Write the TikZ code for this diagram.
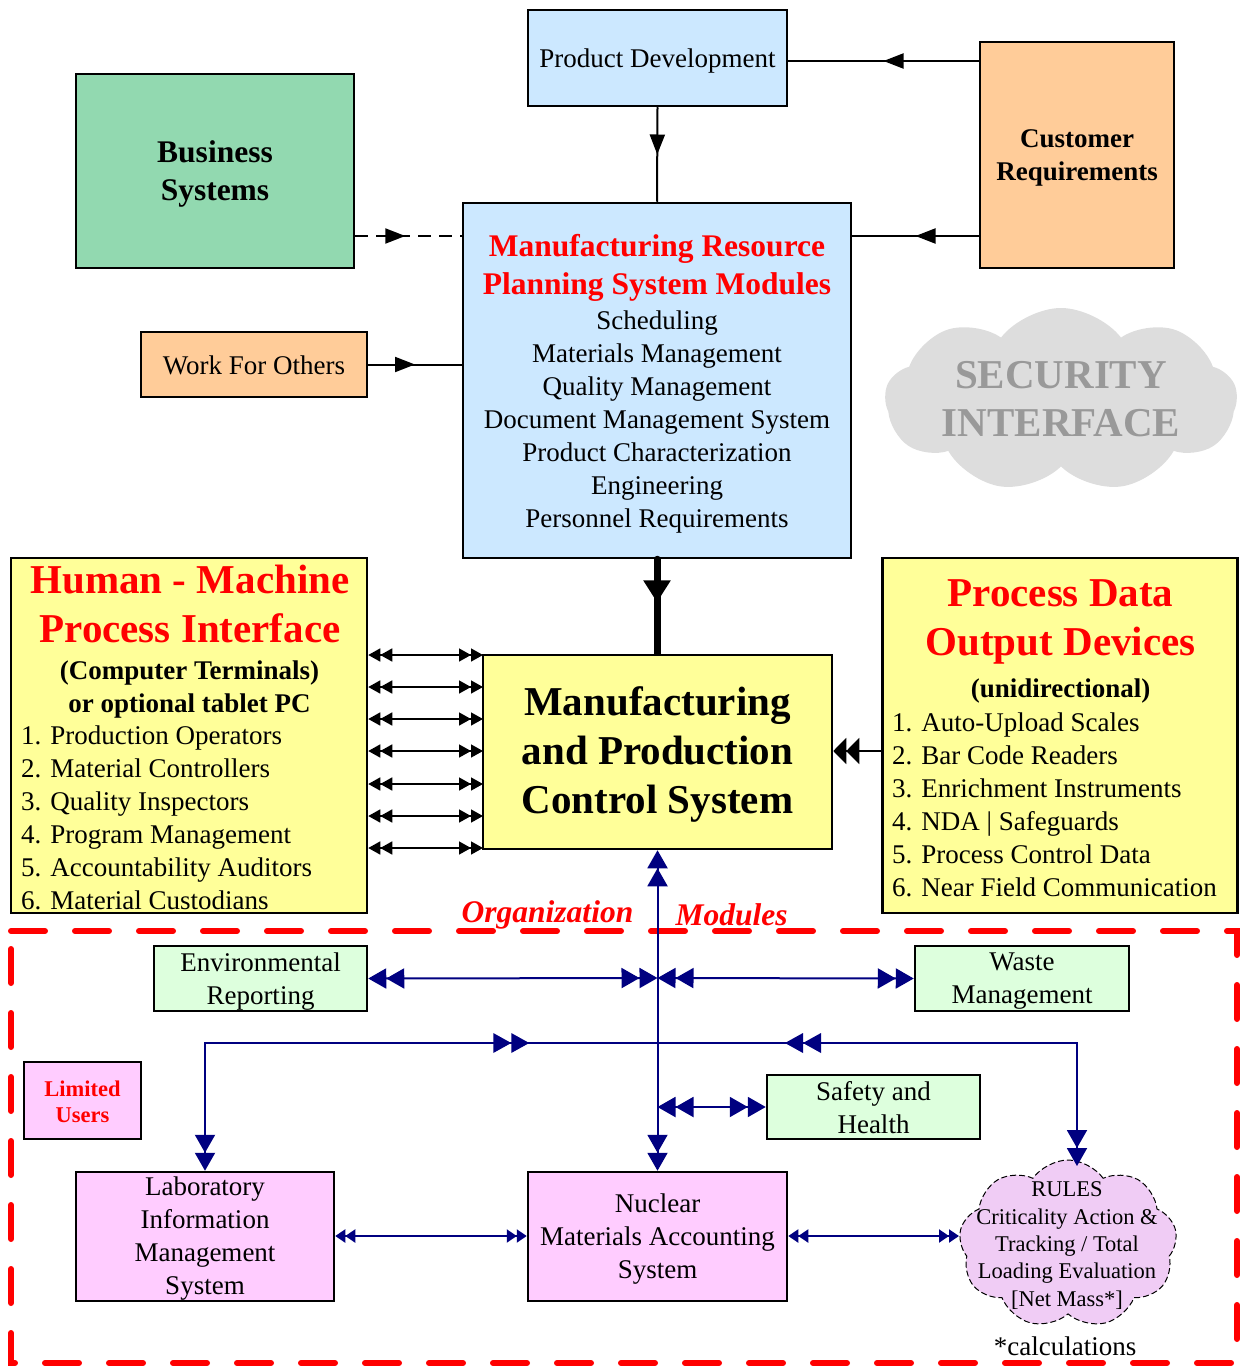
\documentclass[tikz,border=0pt]{standalone}
\usepackage{fontspec}
\setmainfont{Liberation Serif}
\usetikzlibrary{arrows.meta,decorations.markings,shapes.symbols}

\definecolor{pdblue}{HTML}{CCE8FF}
\definecolor{peach}{HTML}{FFCC99}
\definecolor{bizgreen}{HTML}{92D9B0}
\definecolor{paleyellow}{HTML}{FFFF99}
\definecolor{mint}{HTML}{DDFFDD}
\definecolor{pinkbox}{HTML}{FFCCFF}
\definecolor{lilac}{HTML}{F0CCF5}
\definecolor{cloudgray}{HTML}{DDDDDD}
\definecolor{cloudtext}{HTML}{999999}
\definecolor{navyline}{HTML}{000080}

\newcommand\fsBody{\fontsize{27}{33}\selectfont}
\newcommand\fsHead{\fontsize{31.5}{38}\selectfont}
\newcommand\fsBig{\fontsize{41}{49}\selectfont}
\newcommand\fsSmall{\fontsize{22.5}{27.3}\selectfont}

\tikzset{
  box/.style={draw=black, line width=2.5pt, inner sep=0pt, rectangle},
  txt/.style={inner sep=0pt, align=center, font=\fsBody},
  link/.style={draw=black, line width=2pt},
  bline/.style={draw=navyline, line width=2pt},
  bkT/.tip={Triangle[length=12pt,width=13pt,sep=0pt]},
  pdT/.tip={Triangle[length=13pt,width=26pt,sep=0pt]},
  blT/.tip={Triangle[length=18pt,width=20pt,sep=0pt]},
  bsT/.tip={Triangle[length=10pt,width=13pt,sep=0pt]},
  midtip/.style={postaction={decorate}, decoration={markings,
      mark=at position #1 with {\arrow{Triangle[length=20pt,width=15pt]}}}},
  bmid/.style={postaction={decorate}, decoration={markings,
      mark=at position #1 with {\fill[navyline] (0,0) -- (-18pt,10pt) -- (-18pt,-10pt) -- cycle
        (-18pt,0) -- (-36pt,10pt) -- (-36pt,-10pt) -- cycle;}}},
}

\begin{document}
\begin{tikzpicture}[x=1pt,y=-1pt]
\useasboundingbox (0,0) rectangle (1239,1367);

% organization modules frame
\draw[red, line width=6pt, line cap=round, dash pattern=on 34pt off 30pt]
  (11,931) -- (1237,931) -- (1237,1363) -- (11,1363) -- cycle;

% upper boxes
\node[box, fill=pdblue, minimum width=259pt, minimum height=96pt] (pd) at (657.5,58) {};
\node[box, fill=peach, minimum width=194pt, minimum height=226pt] (cust) at (1077,155) {};
\node[box, fill=bizgreen, minimum width=278pt, minimum height=194pt] (bus) at (215,171) {};
\node[box, fill=pdblue, minimum width=388pt, minimum height=355pt] (mrp) at (657,380.5) {};
\node[box, fill=peach, minimum width=226pt, minimum height=65pt] (wfo) at (254,364.5) {};
\node[box, fill=paleyellow, minimum width=356pt, minimum height=355pt] (hmi) at (189,735.5) {};
\node[box, fill=paleyellow, minimum width=355pt, minimum height=355pt] (pdo) at (1060,735.5) {};

\node[txt] (pdT) at (657.5,61) {Product Development};
\node[txt, font=\fsBody\bfseries] (custT) at (1077,158) {Customer\\Requirements};
\node[txt, font=\fsHead\bfseries] (busT) at (215,174) {Business\\Systems};
\node[txt] (wfoT) at (254,365) {Work For Others};

% security cloud
\node[cloud, cloud puffs=9, cloud puff arc=105, cloud ignores aspect, fill=cloudgray, draw=none,
  minimum width=352pt, minimum height=184pt] (sec) at (1061,400) {};
\node[txt, font=\fontsize{41}{48}\selectfont\bfseries, text=cloudtext] (secT) at (1061,399) {SECURITY\\INTERFACE};

% top connectors
\draw[link, midtip=0.5] (cust.west |- 0,61) -- (pd.east |- 0,61);
\draw[link, midtip=0.5] (pd.south) -- (mrp.north);
\draw[link, midtip=0.5] (cust.west |- 0,236) -- (mrp.east |- 0,236);
\draw[link, dash pattern=on 13pt off 8pt, midtip=0.47] (bus.east |- 0,236) -- (mrp.west |- 0,236);
\draw[link, midtip=0.5] (wfo.east) -- (mrp.west |- wfo.east);

% MRP text
\node[txt, font=\fsHead\bfseries, text=red] (mrpT) at (657,268) {Manufacturing Resource\\Planning System Modules};
\node[txt] (mrpL) at (657,422) {Scheduling\\Materials Management\\Quality Management\\Document Management System\\Product Characterization\\Engineering\\Personnel Requirements};

% MRP to control system
\draw[line width=7pt, line cap=round, postaction={decorate}, decoration={markings,
  mark=at position 0.45 with {\arrow{Triangle[length=22pt,width=26pt]}}}] (mrp.south) -- (657,655);

% human machine interface links
\foreach \yy in {655,687,719,751,784,816,848}
  \draw[link, line width=1.5pt, {bkT[]bkT[]}-{bkT[]bkT[]}] (hmi.east |- 0,\yy) -- (483,\yy);

% control system box
\node[box, fill=paleyellow, minimum width=349pt, minimum height=194pt] (mpcs) at (657.5,752) {};
\node[txt, font=\fsBig\bfseries] (mpcsT) at (657.5,754) {Manufacturing\\and Production\\Control System};

% output devices link
\draw[link, line width=1.5pt, -{pdT[]pdT[]}] (pdo.west |- 0,751) -- (mpcs.east |- 0,751);

% HMI text
\node[txt, font=\fsBig\bfseries, text=red] (hmiT) at (190,604) {Human - Machine\\Process Interface};
\node[txt, font=\fsBody\bfseries] (hmiS) at (189.5,689.5) {(Computer Terminals)\\or optional tablet PC};
\node[txt, align=left, anchor=west] (hmiL) at (21,818) {1. Production Operators\\2. Material Controllers\\3. Quality Inspectors\\4. Program Management\\5. Accountability Auditors\\6. Material Custodians};

% output devices text
\node[txt, font=\fsBig\bfseries, text=red] (pdoT) at (1060.5,622) {Process Data\\Output Devices};
\node[txt, font=\fsBody\bfseries] (pdoS) at (1060.5,691) {(unidirectional)};
\node[txt, align=left, anchor=west] (pdoL) at (892,805) {1. Auto-Upload Scales\\2. Bar Code Readers\\3. Enrichment Instruments\\4. NDA | Safeguards\\5. Process Control Data\\6. Near Field Communication};

% frame labels
\node[txt, font=\fsHead\bfseries\itshape, text=red] (orgA) at (547.5,915) {Organization};
\node[txt, font=\fsHead\bfseries\itshape, text=red] (orgB) at (731.5,915) {Modules};

% lower boxes
\node[box, fill=mint, minimum width=213pt, minimum height=65pt] (env) at (260.5,978.5) {};
\node[box, fill=mint, minimum width=214pt, minimum height=65pt] (waste) at (1022,978.5) {};
\node[box, fill=pinkbox, minimum width=117pt, minimum height=77pt] (lim) at (82.5,1100.5) {};
\node[box, fill=mint, minimum width=213pt, minimum height=64pt] (safe) at (873.5,1107) {};
\node[box, fill=pinkbox, minimum width=258pt, minimum height=129pt] (lims) at (205,1236.5) {};
\node[box, fill=pinkbox, minimum width=259pt, minimum height=129pt] (nmas) at (657.5,1236.5) {};

\node[txt] (envT) at (260.5,981.5) {Environmental\\Reporting};
\node[txt] (wasteT) at (1022,981.5) {Waste\\Management};
\node[txt, font=\fontsize{22.5}{26}\selectfont\bfseries, text=red] (limT) at (82.5,1101.5) {Limited\\Users};
\node[txt] (safeT) at (873.5,1108) {Safety and\\Health};
\node[txt] (limsT) at (205,1238.5) {Laboratory\\Information\\Management\\System};
\node[txt] (nmasT) at (657.5,1239) {Nuclear\\Materials Accounting\\System};

% rules cloud
\node[cloud, cloud puffs=9, cloud puff arc=110, cloud ignores aspect, fill=lilac, draw=black, line width=1pt,
  dash pattern=on 6pt off 3pt, minimum width=218pt, minimum height=168pt] (rules) at (1068,1244) {};
\node[txt, font=\fsSmall] (rulesT) at (1067,1245.5) {RULES\\Criticality Action \&\\Tracking / Total\\Loading Evaluation\\{[}Net Mass*]};
\node[txt] (calc) at (1065,1346) {*calculations};

% junction points on the module bus
\coordinate (j1) at (mpcs.south |- 0,978);
\coordinate (j2) at (mpcs.south |- 0,1043);
\coordinate (j3) at (mpcs.south |- 0,1107);
\coordinate (rtop) at (1077,1166);
\coordinate (rleft) at (959,1236);

% blue module connectors
\draw[bline, {blT[]blT[]}-{blT[]blT[]}] (nmas.north) -- (mpcs.south);
\draw[bline, {blT[]blT[]}-{blT[]blT[]}] (env.east) -- (j1);
\draw[bline, {blT[]blT[]}-{blT[]blT[]}] (waste.west) -- (j1);
\draw[bline, {blT[]blT[]}-{blT[]blT[]}] (j3) -- (safe.west);
\draw[bline, {blT[]blT[]}-, bmid=452pt] (lims.north) |- (j2);
\draw[bline, {blT[]blT[]}-, bmid=415pt] (rtop) |- (j2);
\draw[bline, {bsT[]bsT[]}-{bsT[]bsT[]}] (lims.east |- 0,1236) -- (nmas.west |- 0,1236);
\draw[bline, {bsT[]bsT[]}-{bsT[]bsT[]}] (nmas.east |- 0,1236) -- (rleft);
\end{tikzpicture}
\end{document}
